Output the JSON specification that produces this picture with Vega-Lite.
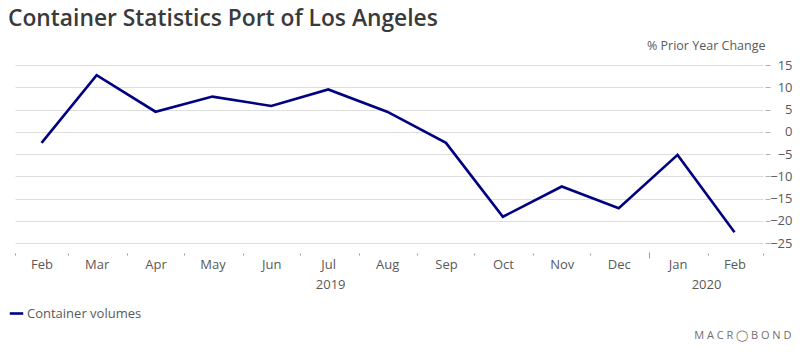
{
  "$schema": "https://vega.github.io/schema/vega-lite/v6.json",
  "width": 748,
  "height": 178,
  "autosize": {"type": "none"},
  "padding": {"left": 15, "top": 65, "right": 37, "bottom": 109},
  "background": "white",
  "config": {
    "view": {"stroke": null},
    "font": "Open Sans",
    "axis": {"labelFont": "Open Sans", "labelColor": "#595959", "labelFontSize": 13, "titleFont": "Open Sans"}
  },
  "title": {
    "text": "Container Statistics Port of Los Angeles",
    "anchor": "start",
    "frame": "group",
    "fontSize": 22.8,
    "fontWeight": 600,
    "color": "#3a3a3a",
    "dx": -7,
    "offset": 8
  },
  "data": {
    "values": [
      {"date": "2019-02-15", "value": -2.5, "series": "Container volumes"},
      {"date": "2019-03-16", "value": 12.7, "series": "Container volumes"},
      {"date": "2019-04-16", "value": 4.5, "series": "Container volumes"},
      {"date": "2019-05-16", "value": 7.9, "series": "Container volumes"},
      {"date": "2019-06-16", "value": 5.8, "series": "Container volumes"},
      {"date": "2019-07-16", "value": 9.5, "series": "Container volumes"},
      {"date": "2019-08-16", "value": 4.5, "series": "Container volumes"},
      {"date": "2019-09-16", "value": -2.5, "series": "Container volumes"},
      {"date": "2019-10-16", "value": -19.1, "series": "Container volumes"},
      {"date": "2019-11-16", "value": -12.3, "series": "Container volumes"},
      {"date": "2019-12-16", "value": -17.2, "series": "Container volumes"},
      {"date": "2020-01-16", "value": -5.2, "series": "Container volumes"},
      {"date": "2020-02-15", "value": -22.6, "series": "Container volumes"}
    ]
  },
  "resolve": {"axis": {"x": "independent"}},
  "layer": [
    {
      "mark": {"type": "line", "strokeWidth": 2.6},
      "encoding": {
        "x": {
          "field": "date",
          "type": "temporal",
          "scale": {"type": "utc", "domain": [{"year": 2019, "month": 2, "date": 1, "utc": true}, {"year": 2020, "month": 3, "date": 1, "utc": true}]},
          "axis": {
            "orient": "bottom",
            "title": null,
            "values": [
              {"year": 2019, "month": 2, "date": 15, "utc": true},
              {"year": 2019, "month": 3, "date": 16, "utc": true},
              {"year": 2019, "month": 4, "date": 16, "utc": true},
              {"year": 2019, "month": 5, "date": 16, "utc": true},
              {"year": 2019, "month": 6, "date": 16, "utc": true},
              {"year": 2019, "month": 7, "date": 16, "utc": true},
              {"year": 2019, "month": 8, "date": 16, "utc": true},
              {"year": 2019, "month": 9, "date": 16, "utc": true},
              {"year": 2019, "month": 10, "date": 16, "utc": true},
              {"year": 2019, "month": 11, "date": 16, "utc": true},
              {"year": 2019, "month": 12, "date": 16, "utc": true},
              {"year": 2020, "month": 1, "date": 16, "utc": true},
              {"year": 2020, "month": 2, "date": 15, "utc": true}
            ],
            "labelExpr": "utcFormat(datum.value, '%b')",
            "ticks": false,
            "domain": false,
            "grid": false,
            "offset": 10,
            "labelPadding": 5,
            "labelFlush": false,
            "labelOverlap": false
          }
        },
        "y": {
          "field": "value",
          "type": "quantitative",
          "scale": {"domain": [-25, 15], "nice": false, "zero": false},
          "axis": {
            "orient": "right",
            "values": [-25, -20, -15, -10, -5, 0, 5, 10, 15],
            "grid": true,
            "gridColor": "#dedede",
            "gridWidth": 1,
            "domain": false,
            "tickColor": "#b0b0b0",
            "tickSize": 5,
            "offset": 2,
            "labelAlign": "right",
            "labelPadding": 22,
            "labelBaseline": "middle",
            "labelOverlap": false,
            "labelFlush": false,
            "title": "% Prior Year Change",
            "titleAngle": 0,
            "titleAlign": "right",
            "titleBaseline": "alphabetic",
            "titleX": 0,
            "titleY": -16,
            "titleFontSize": 12.5,
            "titleFontWeight": "normal",
            "titleColor": "#595959"
          }
        },
        "color": {
          "field": "series",
          "type": "nominal",
          "scale": {"range": ["#000080"]},
          "legend": {
            "orient": "none",
            "legendX": -7,
            "legendY": 240,
            "title": null,
            "symbolType": "stroke",
            "symbolStrokeWidth": 2.6,
            "symbolSize": 180,
            "labelFontSize": 13,
            "labelColor": "#595959",
            "labelFont": "Open Sans",
            "labelOffset": 2
          }
        }
      }
    },
    {
      "mark": {"type": "line", "strokeOpacity": 0},
      "encoding": {
        "x": {
          "field": "date",
          "type": "temporal",
          "axis": {
            "orient": "bottom",
            "title": null,
            "values": [
              {"year": 2019, "month": 2, "date": 1, "utc": true},
              {"year": 2019, "month": 3, "date": 1, "utc": true},
              {"year": 2019, "month": 4, "date": 1, "utc": true},
              {"year": 2019, "month": 5, "date": 1, "utc": true},
              {"year": 2019, "month": 6, "date": 1, "utc": true},
              {"year": 2019, "month": 7, "date": 1, "utc": true},
              {"year": 2019, "month": 8, "date": 1, "utc": true},
              {"year": 2019, "month": 9, "date": 1, "utc": true},
              {"year": 2019, "month": 10, "date": 1, "utc": true},
              {"year": 2019, "month": 11, "date": 1, "utc": true},
              {"year": 2019, "month": 12, "date": 1, "utc": true},
              {"year": 2020, "month": 1, "date": 1, "utc": true},
              {"year": 2020, "month": 2, "date": 1, "utc": true},
              {"year": 2020, "month": 3, "date": 1, "utc": true}
            ],
            "labels": false,
            "ticks": true,
            "tickSize": 2,
            "tickColor": "#9a9a9a",
            "domain": false,
            "grid": false,
            "offset": 10
          }
        }
      }
    },
    {
      "mark": {"type": "line", "strokeOpacity": 0},
      "encoding": {
        "x": {
          "field": "date",
          "type": "temporal",
          "axis": {
            "orient": "bottom",
            "title": null,
            "values": [{"year": 2020, "month": 1, "date": 1, "utc": true}],
            "labels": false,
            "ticks": true,
            "tickSize": 6,
            "tickColor": "#9a9a9a",
            "domain": false,
            "grid": false,
            "offset": 9
          }
        }
      }
    },
    {
      "mark": {"type": "line", "strokeOpacity": 0},
      "encoding": {
        "x": {
          "field": "date",
          "type": "temporal",
          "axis": {
            "orient": "bottom",
            "values": [
              {"year": 2019, "month": 7, "date": 17, "utc": true},
              {"year": 2020, "month": 1, "date": 31, "utc": true}
            ],
            "labelExpr": "utcFormat(datum.value, '%Y')",
            "ticks": false,
            "domain": false,
            "grid": false,
            "offset": 10,
            "labelPadding": 25,
            "labelFlush": false,
            "labelOverlap": false,
            "title": "M A C R ◯ B O N D",
            "titleX": 776,
            "titleY": 85,
            "titleAlign": "right",
            "titleAnchor": null,
            "titleBaseline": "alphabetic",
            "titleFontSize": 11,
            "titleFontWeight": "normal",
            "titleColor": "#707070"
          }
        }
      }
    }
  ]
}
